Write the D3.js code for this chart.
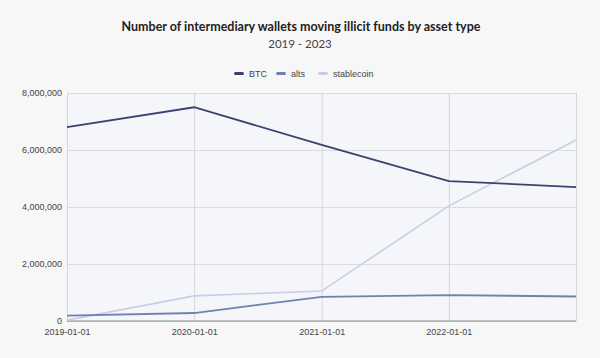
<!DOCTYPE html>
<html><head><meta charset="utf-8">
<script src="https://cdn.jsdelivr.net/npm/d3@7"></script>
<style>body{margin:0;background:#f7f7f7;}svg{display:block;}</style>
</head><body><svg id="c" width="600" height="358"></svg>
<script>
const years = ["2019-01-01","2020-01-01","2021-01-01","2022-01-01","2023-01-01"];
const xTickLabels = ["2019-01-01","2020-01-01","2021-01-01","2022-01-01"];
const btc = [6800000, 7500000, 6180000, 4910000, 4700000];
const alts = [190000, 280000, 850000, 910000, 860000];
const stablecoin = [30000, 880000, 1050000, 4040000, 6350000];
const yTicks = [0, 2000000, 4000000, 6000000, 8000000];
const seriesNames = ["BTC","alts","stablecoin"];
const colors = ["#3d4170","#6e82b0","#c9cde7"];

const svg = d3.select("#c");
const m = {l:67, r:576, t:93, b:321};
const parse = d3.timeParse("%Y-%m-%d");
const x = d3.scaleTime().domain([parse(years[0]), parse(years[4])]).range([m.l, m.r]);
const y = d3.scaleLinear().domain([0, 8000000]).range([m.b, m.t]);

svg.append("rect").attr("x",m.l).attr("y",m.t).attr("width",m.r-m.l).attr("height",m.b-m.t).attr("fill","#f5f6fa");

svg.append("g").attr("transform",`translate(${m.l},0)`)
  .call(d3.axisLeft(y).tickValues(yTicks).tickSize(-(m.r-m.l)).tickFormat(""))
  .call(g=>{g.select(".domain").remove(); g.selectAll("line").attr("stroke","#dcdce0");});
svg.append("g").attr("transform",`translate(0,${m.t})`)
  .call(d3.axisBottom(x).tickValues(years.map(parse)).tickSize(m.b-m.t).tickFormat(""))
  .call(g=>{g.select(".domain").remove(); g.selectAll("line").attr("stroke","#d6d6da");});

svg.append("g").attr("transform",`translate(${m.l},0)`)
  .call(d3.axisLeft(y).tickValues(yTicks).tickSize(0).tickPadding(5).tickFormat(d3.format(",")))
  .call(g=>{g.select(".domain").remove(); g.selectAll("text").attr("font-family","Liberation Sans, Arial").attr("font-size",9).attr("fill","#444");});
svg.append("g").attr("transform",`translate(0,${m.b})`)
  .call(d3.axisBottom(x).tickValues(xTickLabels.map(parse)).tickSize(0).tickPadding(8).tickFormat(d3.timeFormat("%Y-%m-%d")))
  .call(g=>{g.select(".domain").remove(); g.selectAll("text").attr("font-family","Liberation Sans, Arial").attr("font-size",9).attr("fill","#444");});
svg.append("line").attr("x1",m.l).attr("x2",m.r).attr("y1",m.b).attr("y2",m.b).attr("stroke","#888").attr("stroke-width",1.2);

const line = d3.line().x((d,i)=>x(parse(years[i]))).y(d=>y(d));
const data = [btc, alts, stablecoin];
[2,1,0].forEach(i=>{
  svg.append("path").datum(data[i]).attr("d",line).attr("fill","none")
    .attr("stroke",colors[i]).attr("stroke-width",i===2?1.6:1.8);
});

svg.append("text").attr("x",301).attr("y",31).attr("text-anchor","middle")
  .attr("font-family","Lato, Noto Sans, sans-serif").attr("font-weight","bold").attr("font-size",12.5).attr("fill","#222")
  .text("Number of intermediary wallets moving illicit funds by asset type");
svg.append("text").attr("x",300).attr("y",48).attr("text-anchor","middle")
  .attr("font-family","Lato, Noto Sans, sans-serif").attr("font-size",11.5).attr("fill","#444")
  .text("2019 - 2023");

const lx = [234, 276, 318];
seriesNames.forEach((n,i)=>{
  svg.append("rect").attr("x",lx[i]).attr("y",72).attr("width",10).attr("height",3).attr("rx",1.5).attr("fill",colors[i]);
  svg.append("text").attr("x",lx[i]+15).attr("y",77).attr("font-family","Liberation Sans, Arial").attr("font-size",9).attr("fill","#444").text(n);
});
</script></body></html>
